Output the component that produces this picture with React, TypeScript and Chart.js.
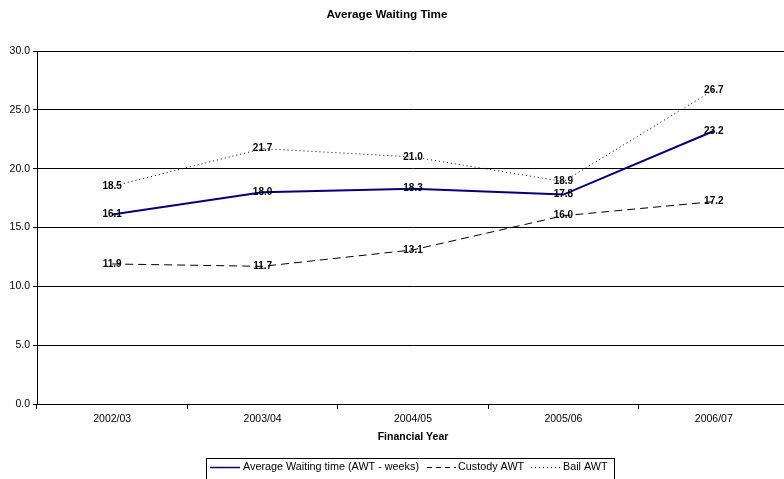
import React, { useEffect, useRef } from "react";
import { Chart, registerables } from "chart.js";

Chart.register(...registerables);

const categories = ["2002/03", "2003/04", "2004/05", "2005/06", "2006/07"];
const averageAWT = [16.1, 18.0, 18.3, 17.8, 23.2];
const custodyAWT = [11.9, 11.7, 13.1, 16.0, 17.2];
const bailAWT = [18.5, 21.7, 21.0, 18.9, 26.7];
const seriesNames = ["Average Waiting time (AWT - weeks)", "Custody AWT", "Bail AWT"];
const yTicks = [0, 5, 10, 15, 20, 25, 30];

const FONT = "'Liberation Sans', Arial, sans-serif";

const labelsPlugin = {
  id: "valueLabels",
  afterDatasetsDraw(chart: any) {
    const ctx = chart.ctx;
    ctx.save();
    ctx.font = `bold 10px ${FONT}`;
    ctx.fillStyle = "#000";
    ctx.textAlign = "center";
    ctx.textBaseline = "middle";
    chart.data.datasets.forEach((ds: any, i: number) => {
      const meta = chart.getDatasetMeta(i);
      meta.data.forEach((pt: any, j: number) => {
        ctx.fillText(Number(ds.data[j]).toFixed(1), pt.x, pt.y);
      });
    });
    ctx.restore();
  },
};

const titlePlugin = {
  id: "customTitle",
  afterDraw(chart: any) {
    const ctx = chart.ctx;
    ctx.save();
    ctx.font = `bold 11.7px ${FONT}`;
    ctx.fillStyle = "#000";
    ctx.textAlign = "center";
    ctx.textBaseline = "middle";
    ctx.fillText("Average Waiting Time", 387, 15);
    ctx.restore();
  },
};

const legendPlugin = {
  id: "boxLegend",
  afterDraw(chart: any) {
    const ctx = chart.ctx;
    ctx.save();
    ctx.strokeStyle = "#000";
    ctx.lineWidth = 1;
    ctx.strokeRect(206.5, 458.5, 408, 30);
    ctx.font = `10.8px ${FONT}`;
    ctx.fillStyle = "#000";
    ctx.textBaseline = "middle";
    ctx.textAlign = "left";
    const y = 467.5;
    const items = [
      { x0: 210, x1: 240, tx: 243, color: "#000080", dash: [] as number[], w: 1.5 },
      { x0: 427, x1: 456, tx: 458, color: "#000", dash: [5, 4], w: 1 },
      { x0: 531, x1: 561, tx: 563, color: "#000", dash: [1, 3], w: 1 },
    ];
    items.forEach((it, i) => {
      ctx.beginPath();
      ctx.strokeStyle = it.color;
      ctx.lineWidth = it.w;
      ctx.setLineDash(it.dash);
      ctx.moveTo(it.x0, y);
      ctx.lineTo(it.x1, y);
      ctx.stroke();
      ctx.setLineDash([]);
      ctx.fillText(seriesNames[i], it.tx, y);
    });
    ctx.restore();
  },
};

export default function App() {
  const ref = useRef<HTMLCanvasElement>(null);
  useEffect(() => {
    document.body.style.margin = "0";
    const chart = new Chart(ref.current as HTMLCanvasElement, {
      type: "line",
      data: {
        labels: categories,
        datasets: [
          {
            label: seriesNames[0],
            data: averageAWT,
            borderColor: "#000080",
            borderWidth: 2,
            pointRadius: 0,
            tension: 0,
          },
          {
            label: seriesNames[1],
            data: custodyAWT,
            borderColor: "#000",
            borderWidth: 1,
            borderDash: [8, 5],
            pointRadius: 0,
            tension: 0,
          },
          {
            label: seriesNames[2],
            data: bailAWT,
            borderColor: "#000",
            borderWidth: 1,
            borderDash: [1, 3],
            pointRadius: 0,
            tension: 0,
          },
        ],
      },
      options: {
        responsive: false,
        animation: false,
        layout: { padding: { top: 51, bottom: 33, left: 0, right: 0 } },
        plugins: {
          legend: { display: false },
          title: { display: false },
          tooltip: { enabled: false },
        },
        scales: {
          x: {
            offset: true,
            grid: {
              offset: true,
              drawOnChartArea: false,
              drawTicks: true,
              tickLength: 5,
              color: "#000",
            },
            border: { color: "#000", width: 1 },
            ticks: { color: "#000", font: { family: FONT, size: 10.5 }, padding: 4, maxRotation: 0 },
            title: {
              display: true,
              text: "Financial Year",
              color: "#000",
              font: { family: FONT, size: 10.5, weight: "bold" },
              padding: { top: 4, bottom: 3 },
            },
            afterFit(scale: any) {
              scale.height = 42;
            },
          },
          y: {
            min: 0,
            max: 30,
            afterBuildTicks(scale: any) {
              scale.ticks = yTicks.map((v) => ({ value: v }));
            },
            grid: { color: "#000", lineWidth: 1, tickLength: 4, drawTicks: true },
            border: { color: "#000", width: 1 },
            ticks: {
              color: "#000",
              font: { family: FONT, size: 10.5 },
              padding: 3,
              callback: (v: any) => Number(v).toFixed(1),
            },
            afterFit(scale: any) {
              scale.width = 37;
            },
          },
        },
      },
      plugins: [labelsPlugin, titlePlugin, legendPlugin],
    } as any);
    return () => chart.destroy();
  }, []);
  return (
    <div style={{ width: 784, height: 479, overflow: "hidden" }}>
      <canvas ref={ref} width={789} height={479} style={{ display: "block" }} />
    </div>
  );
}
